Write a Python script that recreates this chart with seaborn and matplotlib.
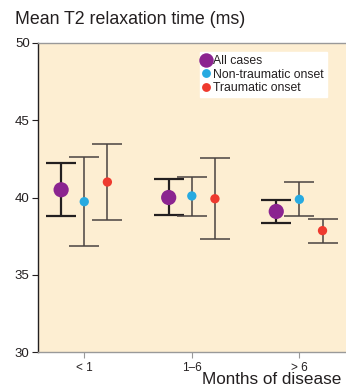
import numpy as np
import pandas as pd
import matplotlib
matplotlib.use("Agg")
import matplotlib.pyplot as plt
import seaborn as sns
from matplotlib.lines import Line2D

categories = ["< 1", "1\u20136", "> 6"]
series = ["All cases", "Non-traumatic onset", "Traumatic onset"]
mean_all = [40.5, 40.0, 39.1]
low_all = [38.8, 38.85, 38.33]
high_all = [42.23, 41.2, 39.86]
mean_nt = [39.73, 40.1, 39.88]
low_nt = [36.85, 38.8, 38.79]
high_nt = [42.6, 41.35, 41.0]
mean_tr = [41.0, 39.92, 37.86]
low_tr = [38.55, 37.3, 37.04]
high_tr = [43.48, 42.57, 38.63]

colors = {"All cases": "#8B2490", "Non-traumatic onset": "#27AAE1", "Traumatic onset": "#EE3A2F"}
sizes = {"All cases": 120, "Non-traumatic onset": 45, "Traumatic onset": 45}
offsets = {"All cases": -0.215, "Non-traumatic onset": 0.0, "Traumatic onset": 0.215}

rows = []
for s, m, lo, hi in [("All cases", mean_all, low_all, high_all),
                     ("Non-traumatic onset", mean_nt, low_nt, high_nt),
                     ("Traumatic onset", mean_tr, low_tr, high_tr)]:
    for i, c in enumerate(categories):
        rows.append({"cat": c, "idx": i, "series": s, "mean": m[i], "low": lo[i], "high": hi[i]})
df = pd.DataFrame(rows)
df["x"] = df["idx"] + df["series"].map(offsets)

sns.set_theme(style="white")
plt.rcParams['font.family'] = ['Liberation Sans', 'DejaVu Sans']

fig = plt.figure(figsize=(3.46, 3.89), dpi=100)
ax = fig.add_axes([38/346, (389-352.3)/389, 1.2, (352.3-42.7)/389])
ax.set_facecolor("#FDEED2")

for s in series:
    sub = df[df["series"] == s]
    thick = s == "All cases"
    ax.errorbar(sub["x"], sub["mean"],
                yerr=[sub["mean"] - sub["low"], sub["high"] - sub["mean"]],
                fmt="none", ecolor="#231F20" if thick else "#4a4240",
                elinewidth=1.6 if thick else 1.1, capsize=11,
                capthick=1.6 if thick else 1.1, zorder=2)

sns.scatterplot(data=df, x="x", y="mean", hue="series", palette=colors,
                size="series", sizes=sizes, edgecolor="none", legend=False,
                ax=ax, zorder=3)

ax.set_ylim(30, 50)
ax.set_yticks([30, 35, 40, 45, 50])
ax.set_xlim(-0.43, 2.43 + 1.0)
ax.set_xticks(range(len(categories)))
ax.set_xticklabels(categories)
ax.set_xlabel("")
ax.set_ylabel("")
ax.tick_params(axis="both", colors="#231F20", length=4, width=0.8,
               bottom=True, left=True, pad=2)
ax.tick_params(axis="y", labelsize=9.5)
ax.tick_params(axis="x", labelsize=8.5, colors="#999999", labelcolor="#231F20", pad=3)

for side in ["top", "bottom", "right"]:
    ax.spines[side].set_color("#999999")
    ax.spines[side].set_linewidth(1.0)
ax.spines["left"].set_color("#231F20")
ax.spines["left"].set_linewidth(1.0)

fig.text(15/346, 1 - 20/389, "Mean T2 relaxation time (ms)", fontsize=12.8,
         color="#231F20", ha="left", va="center")
fig.text(202/346, 1 - 380/389, "Months of disease", fontsize=12.3,
         color="#231F20", ha="left", va="center")

handles = [Line2D([0], [0], marker="o", linestyle="none", markerfacecolor=colors[s],
                  markeredgecolor="none", markersize=np.sqrt(sizes[s]) * 0.95)
           for s in series]
leg = ax.legend(handles, series, loc="upper left",
                bbox_to_anchor=(200/346, 1 - 52/389), bbox_transform=fig.transFigure,
                fontsize=8.8, frameon=True, fancybox=False, framealpha=1,
                edgecolor="white", handlelength=0.5, handletextpad=0.3,
                borderpad=0.25, labelspacing=0.12, borderaxespad=0)
for t in leg.get_texts():
    t.set_color("#231F20")

fig.savefig("out.png", dpi=100)
